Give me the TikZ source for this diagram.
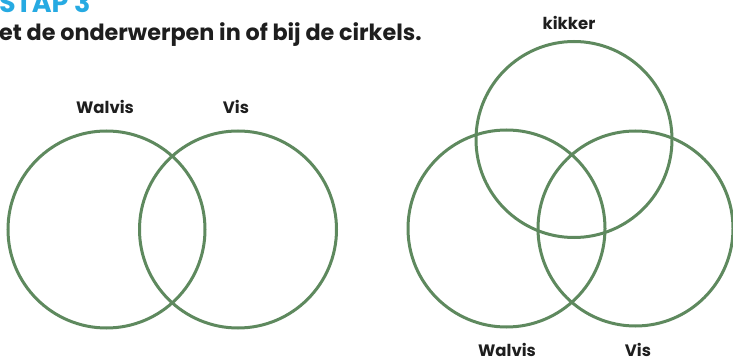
\documentclass[tikz,border=0pt]{standalone}
\usepackage{fontspec}
\setmainfont{Poppins}
\usetikzlibrary{positioning}
\definecolor{ringgreen}{RGB}{94,137,94}
\definecolor{stapblue}{RGB}{38,170,226}
\definecolor{inktext}{RGB}{30,30,30}

\begin{document}
\begin{tikzpicture}[x=1pt,y=-1pt,
  every node/.style={font=\bfseries,text=inktext,inner sep=0pt},
  ring/.style={draw=ringgreen,line width=3pt},
  setlabel/.style={font=\bfseries\fontsize{16.5}{16.5}\selectfont}]
  \useasboundingbox (0,0) rectangle (733,363);
  % heading
  \node[anchor=base west,text=stapblue,font=\bfseries\fontsize{27}{27}\selectfont]
    (stap) at (-1,12.5) {STAP 3};
  \node[anchor=base west,font=\bfseries\fontsize{22.3}{23}\selectfont]
    (opdracht) at (-1,40.5) {et de onderwerpen in of bij de cirkels.};

  % two sets
  \coordinate (walvisA) at (106.5,229.5);
  \coordinate (visA) at (238,229.5);
  \draw[ring] (walvisA) circle (98.5);
  \draw[ring] (visA) circle (98.5);
  \node[setlabel] (lwalvisA) at (105,107) {Walvis};
  \node[setlabel] (lvisA) at (236,107) {Vis};

  % three sets
  \coordinate (kikker) at (574,139.5);
  \coordinate (walvisB) at (506.5,228.5);
  \coordinate (visB) at (635.5,228.5);
  \draw[ring] (kikker) circle (98);
  \draw[ring] (walvisB) circle (98.5);
  \draw[ring] (visB) circle (97.5);
  \node[setlabel] (lkikker) at (569,23) {kikker};
  \node[setlabel] (lwalvisB) at (507,350) {Walvis};
  \node[setlabel] (lvisB) at (638,350) {Vis};
\end{tikzpicture}
\end{document}
